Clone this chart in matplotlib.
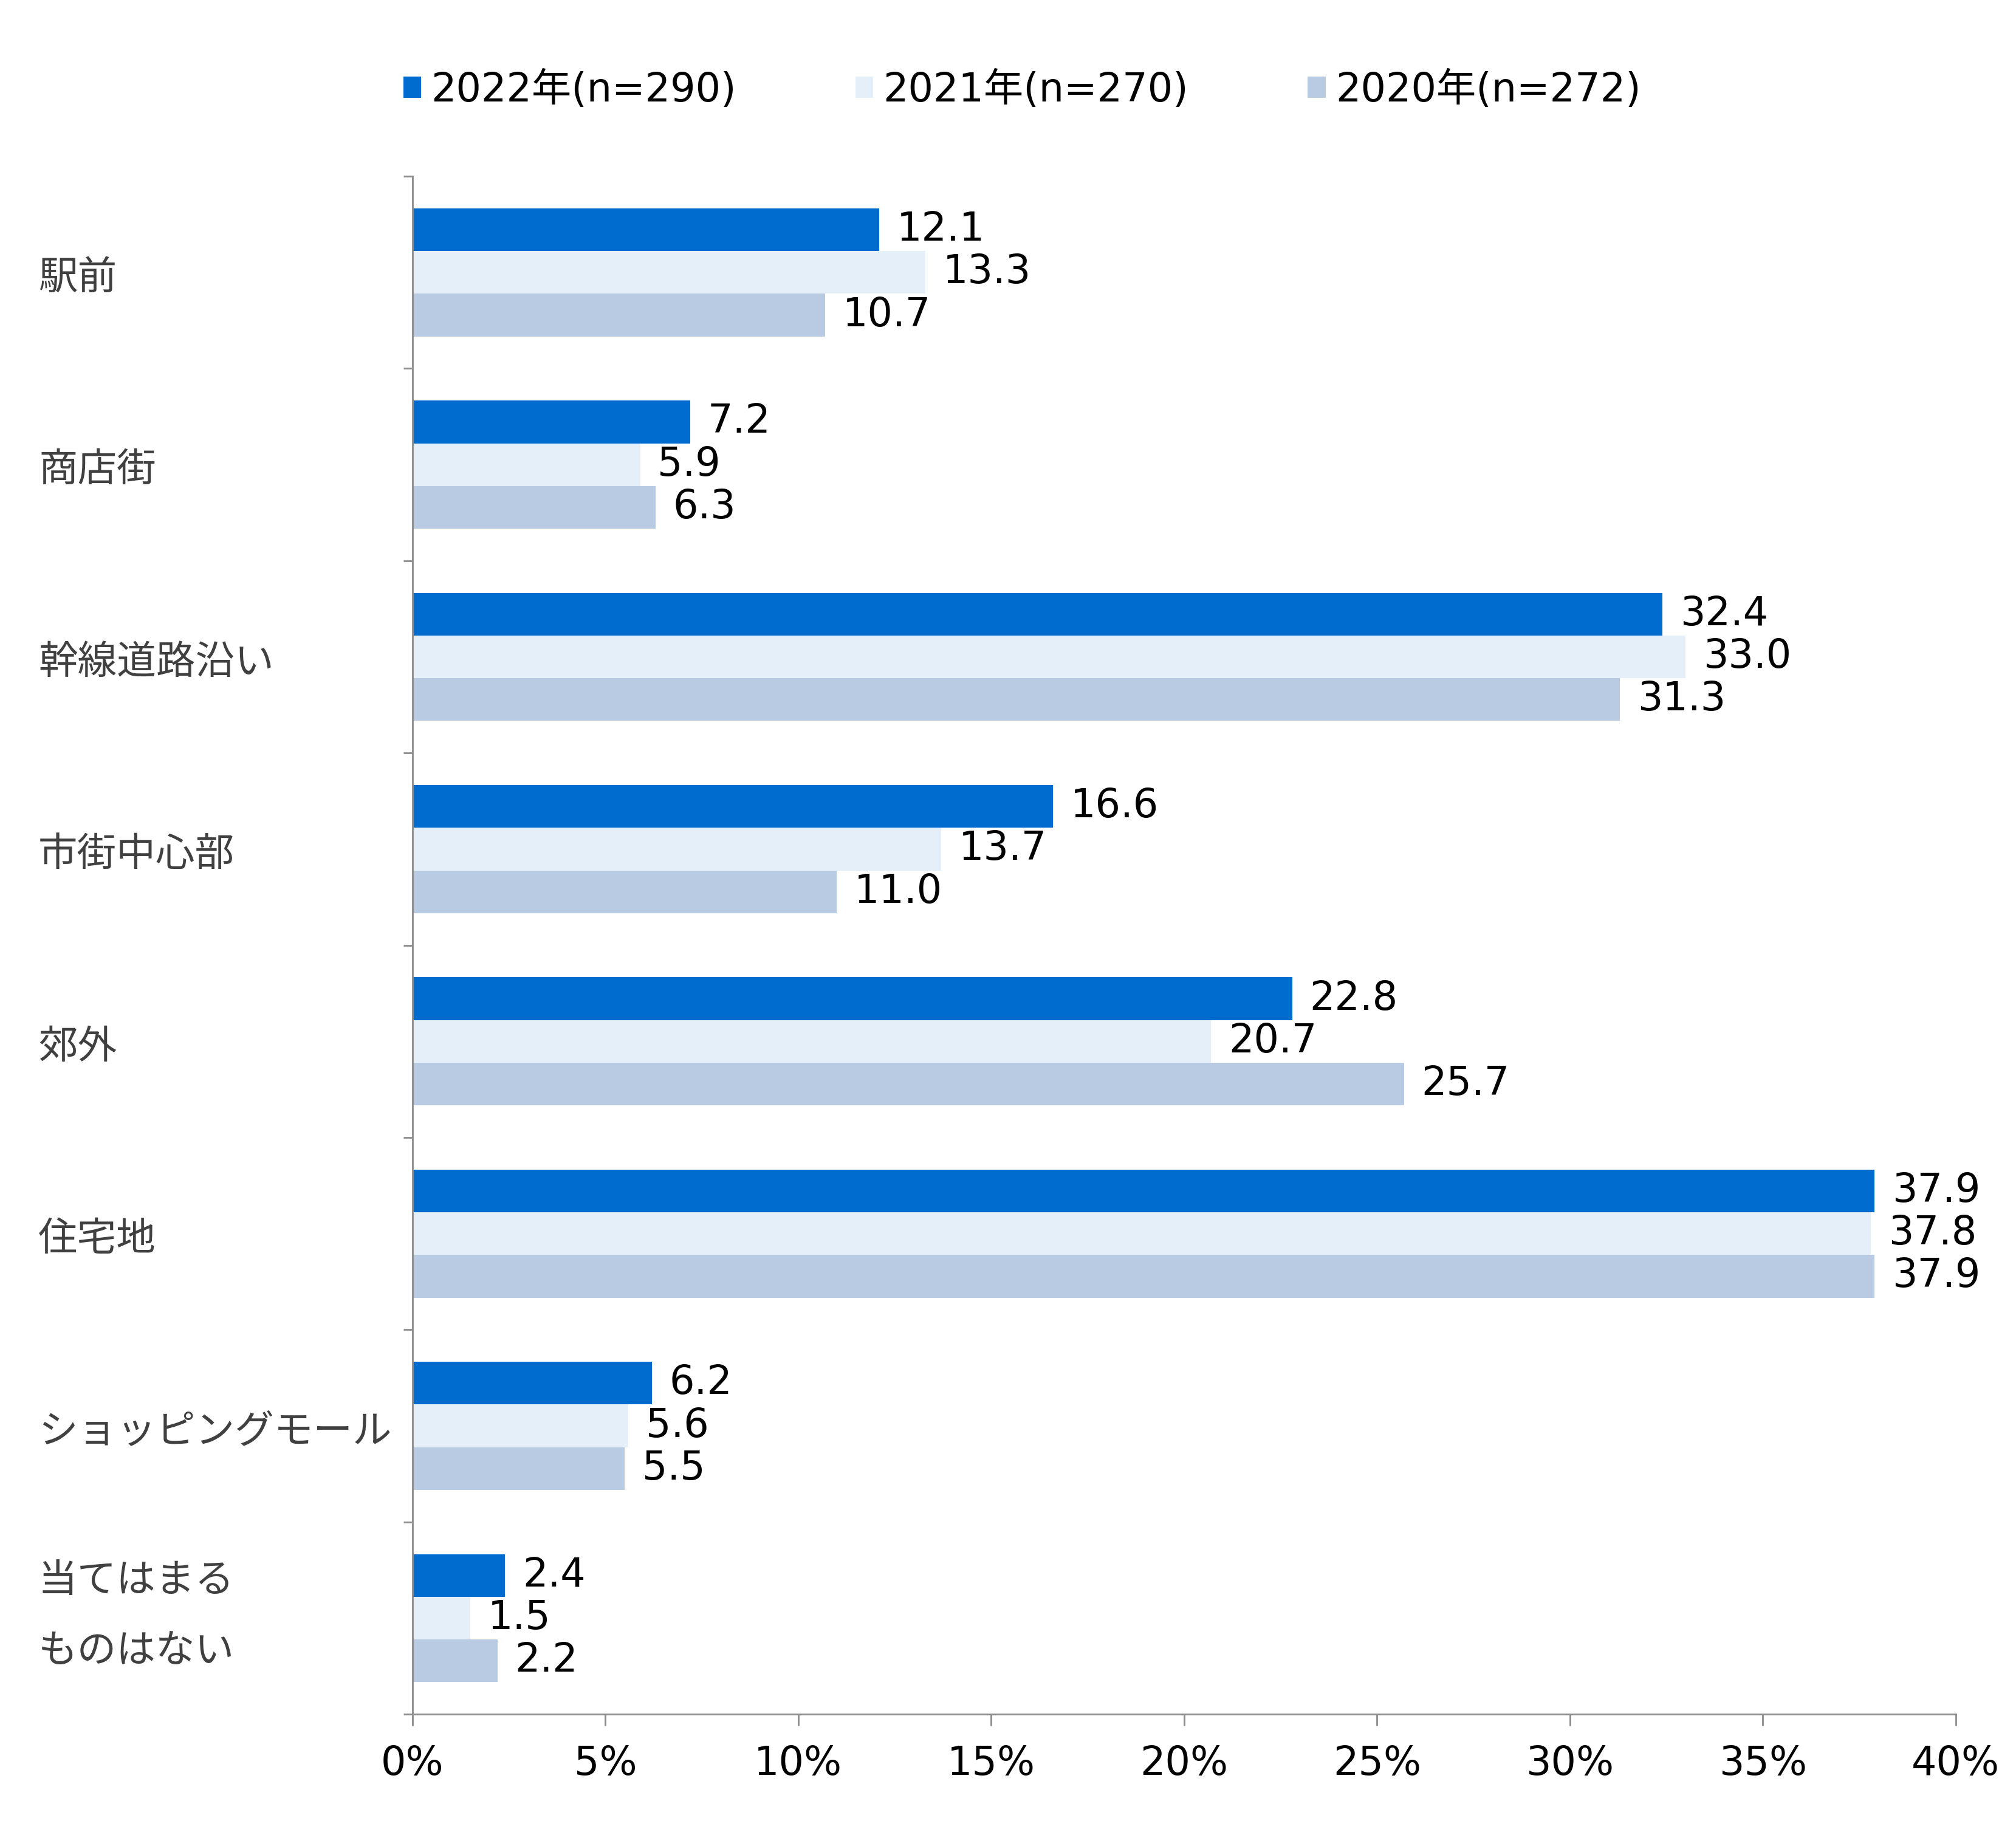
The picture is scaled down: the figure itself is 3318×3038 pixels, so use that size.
import matplotlib
matplotlib.use('Agg')
import matplotlib.pyplot as plt
import matplotlib.transforms as mtrans
import numpy as np

plt.rcParams['font.family'] = ['DejaVu Sans', 'Noto Sans CJK JP']

# data
categories = ['駅前', '商店街', '幹線道路沿い', '市街中心部', '郊外', '住宅地',
              'ショッピングモール', '当てはまる\nものはない']
series_names = ['2022年(n=290)', '2021年(n=270)', '2020年(n=272)']
v2022 = [12.1, 7.2, 32.4, 16.6, 22.8, 37.9, 6.2, 2.4]
v2021 = [13.3, 5.9, 33.0, 13.7, 20.7, 37.8, 5.6, 1.5]
v2020 = [10.7, 6.3, 31.3, 11.0, 25.7, 37.9, 5.5, 2.2]
xticks = [0, 5, 10, 15, 20, 25, 30, 35, 40]
xtick_labels = ['0%', '5%', '10%', '15%', '20%', '25%', '30%', '35%', '40%']

colors = ['#006CCF', '#E5EFF9', '#B9CBE3']
axis_col = '#8C8C8C'

fig = plt.figure(figsize=(33.18, 30.38), dpi=100)
ax = fig.add_axes([0.2046, 0.0714, 0.7655, 0.8331])

y = np.arange(len(categories))
h = 0.222
for k, (vals, name, c) in enumerate(zip([v2022, v2021, v2020], series_names, colors)):
    pos = y + (k - 1) * h
    ax.barh(pos, vals, height=h, color=c, label=name, edgecolor='none')
    for p, v in zip(pos, vals):
        ax.text(v + 0.45, p, f'{v:.1f}', va='center', ha='left', fontsize=47, color='black')

ax.set_xlim(0, 40)
ax.set_ylim(len(categories) - 0.5, -0.5)
ax.set_xticks(xticks)
ax.set_xticklabels(xtick_labels, fontsize=47)
ax.set_yticks(np.arange(len(categories) + 1) - 0.5)
ax.set_yticklabels([])
ax.tick_params(axis='x', length=14, width=2, color=axis_col, pad=22)
ax.tick_params(axis='y', length=11, width=2, color=axis_col)

for s in ['top', 'right']:
    ax.spines[s].set_visible(False)
for s in ['left', 'bottom']:
    ax.spines[s].set_color(axis_col)
    ax.spines[s].set_linewidth(2)

# category labels, left aligned
tr = mtrans.blended_transform_factory(fig.transFigure, ax.transData)
for i, cat in enumerate(categories):
    dy = 0.03 if '\n' not in cat else -0.01
    ax.text(0.019, i + dy, cat, transform=tr, ha='left', va='center', fontsize=46.5,
            color='#404040', linespacing=1.95, family=['Noto Sans CJK JP'])

leg = fig.legend(loc='center', bbox_to_anchor=(0.507, 0.951), ncol=3, frameon=False,
                 fontsize=47, handlelength=0.45, handleheight=0.45, handletextpad=0.25,
                 columnspacing=3.0)

fig.savefig('out.png', dpi=100)
